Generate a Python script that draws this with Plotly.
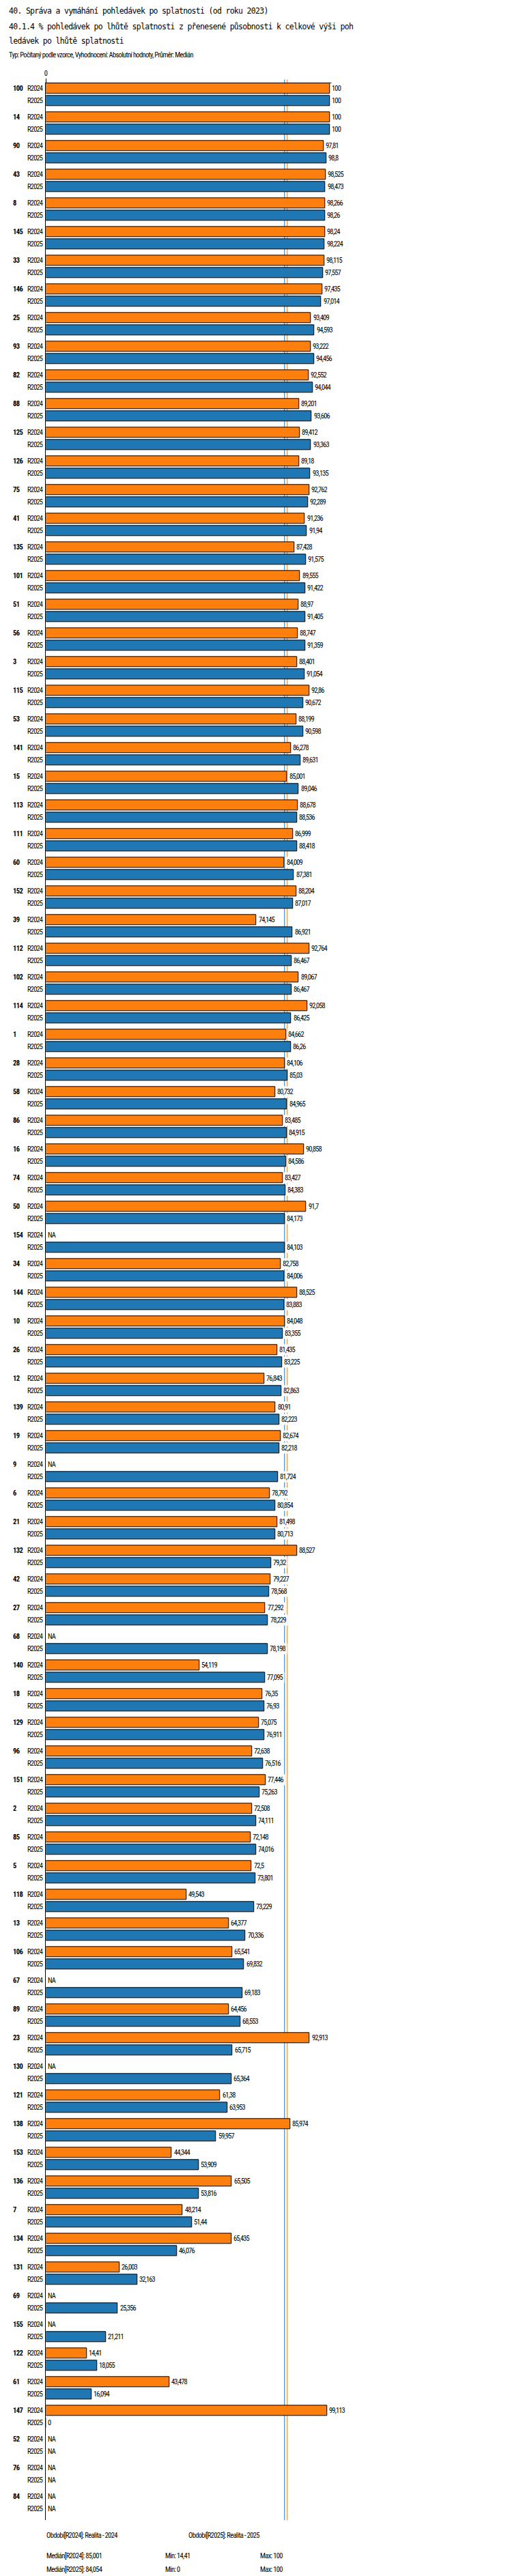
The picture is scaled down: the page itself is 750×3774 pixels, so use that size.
import plotly.graph_objects as go

W, H = 750, 3774

title_lines = [
    "40. Správa a vymáhání pohledávek po splatnosti (od roku 2023)",
    "40.1.4 % pohledávek po lhůtě splatnosti z přenesené působnosti k celkové výši poh",
    "ledávek po lhůtě splatnosti",
]
subtitle = "Typ: Počítaný podle vzorce, Vyhodnocení: Absolutní hodnoty, Průměr: Medián"

groups = [
    "100", "14", "90", "43", "8", "145", "33", "146", "25", "93", "82", "88",
    "125", "126", "75", "41", "135", "101", "51", "56", "3", "115", "53", "141",
    "15", "113", "111", "60", "152", "39", "112", "102", "114", "1", "28", "58",
    "86", "16", "74", "50", "154", "34", "144", "10", "26", "12", "139", "19",
    "9", "6", "21", "132", "42", "27", "68", "140", "18", "129", "96", "151",
    "2", "85", "5", "118", "13", "106", "67", "89", "23", "130", "121", "138",
    "153", "136", "7", "134", "131", "69", "155", "122", "61", "147", "52", "76",
    "84",
]
r2024 = [
    100, 100, 97.81, 98.525, 98.266, 98.24, 98.115, 97.435, 93.409, 93.222, 92.552, 89.201,
    89.412, 89.18, 92.762, 91.236, 87.428, 89.555, 88.97, 88.747, 88.401, 92.86, 88.199, 86.278,
    85.001, 88.678, 86.999, 84.009, 88.204, 74.145, 92.764, 89.067, 92.058, 84.662, 84.106, 80.732,
    83.485, 90.858, 83.427, 91.7, None, 82.758, 88.525, 84.048, 81.435, 76.843, 80.91, 82.674,
    None, 78.792, 81.498, 88.527, 79.227, 77.292, None, 54.119, 76.35, 75.075, 72.638, 77.446,
    72.508, 72.148, 72.5, 49.543, 64.377, 65.541, None, 64.456, 92.913, None, 61.38, 85.974,
    44.344, 65.505, 48.214, 65.435, 26.003, None, None, 14.41, 43.478, 99.113, None, None,
    None,
]
r2025 = [
    100, 100, 98.8, 98.473, 98.26, 98.224, 97.557, 97.014, 94.593, 94.456, 94.044, 93.606,
    93.363, 93.135, 92.289, 91.94, 91.575, 91.422, 91.405, 91.359, 91.054, 90.672, 90.598, 89.631,
    89.046, 88.536, 88.418, 87.381, 87.017, 86.921, 86.467, 86.467, 86.425, 86.26, 85.03, 84.965,
    84.915, 84.586, 84.383, 84.173, 84.103, 84.006, 83.883, 83.355, 83.225, 82.863, 82.223, 82.218,
    81.724, 80.854, 80.713, 79.32, 78.568, 78.229, 78.198, 77.095, 76.93, 76.911, 76.516, 75.263,
    74.111, 74.016, 73.801, 73.229, 70.336, 69.832, 69.183, 68.553, 65.715, 65.364, 63.953, 59.957,
    53.909, 53.816, 51.44, 46.076, 32.163, 25.356, 21.211, 18.055, 16.094, 0, None, None,
    None,
]
series_names = ["R2024", "R2025"]
series_colors = ["#ff7f0e", "#1f77b4"]
medians = [85.001, 84.054]
mins = [14.41, 0]
maxs = [100, 100]
period_labels = ["Období[R2024]: Realita - 2024", "Období[R2025]: Realita - 2025"]

MONO = "DejaVu Sans Mono"
NARROW = "Roboto Condensed, Liberation Sans Narrow, DejaVu Sans Condensed, DejaVu Sans Mono"
NSIZE = 10.5

# pixel layout
TOP = 114.3
GROUP = 42
SLOT = 18
BAR = 15
X0 = 56.5
PXU = 4.175
XMAX = 100.8
BOTTOM = TOP + GROUP * len(groups)


def py(px):
    return 1 - px / H


def fmt(v):
    if v is None:
        return "NA"
    return format(v, "g").replace(".", ",")


def sq(t, ls=-0.85):
    # squeeze text a bit, the original uses a very narrow font
    return f'<span style="letter-spacing:{ls}px">{t}</span>'


nfont = dict(family=NARROW, size=NSIZE, color="black")

pos24 = [TOP + GROUP * i + BAR / 2 for i in range(len(groups))]
pos25 = [p + SLOT for p in pos24]
positions = [pos24, pos25]
series = [r2024, r2025]

fig = go.Figure()
for name, vals, ys, col in zip(series_names, series, positions, series_colors):
    fig.add_trace(go.Bar(
        x=vals, y=ys, orientation="h", width=BAR - 0.5, name=name,
        marker=dict(color=col, line=dict(color="black", width=1)),
        showlegend=False,
    ))

annotations = []
for vals, ys in zip(series, positions):
    for v, y in zip(vals, ys):
        annotations.append(dict(
            x=v if v is not None else 0, y=y, xref="x", yref="y",
            text=sq(fmt(v)), showarrow=False, xanchor="left", yanchor="middle",
            xshift=1, bgcolor="white", borderpad=1, font=nfont,
        ))

for g, y in zip(groups, pos24):
    annotations.append(dict(
        x=6.5 / W, y=y, xref="paper", yref="y", text=sq(f"<b>{g}</b>", -0.5),
        showarrow=False, xanchor="left", yanchor="middle", font=nfont,
    ))

for i, line in enumerate(title_lines):
    annotations.append(dict(
        x=0, y=py([8, 30.7, 52.3][i]), xref="paper", yref="paper", text=sq(line, -0.7),
        showarrow=False, xanchor="left", yanchor="middle",
        font=dict(family=MONO, size=11.5, color="black"),
    ))
annotations.append(dict(
    x=0, y=py(73), xref="paper", yref="paper", text=sq(subtitle, -0.65),
    showarrow=False, xanchor="left", yanchor="middle", font=nfont,
))

foot = [
    (period_labels[0], 55.3, 3706), (period_labels[1], 264.3, 3706),
    (f"Medián[R2024]: {fmt(medians[0])}", 55.3, 3736),
    (f"Min: {fmt(mins[0])}", 229.7, 3736), (f"Max: {fmt(maxs[0])}", 369, 3736),
    (f"Medián[R2025]: {fmt(medians[1])}", 55.3, 3756),
    (f"Min: {fmt(mins[1])}", 229.7, 3756), (f"Max: {fmt(maxs[1])}", 369, 3756),
]
for txt, x, y in foot:
    annotations.append(dict(
        x=x / W, y=py(y), xref="paper", yref="paper", text=sq(txt, -0.65),
        showarrow=False, xanchor="left", yanchor="middle", font=nfont,
    ))

shapes = []
for m, col in zip(medians, series_colors):
    shapes.append(dict(
        type="line", xref="x", yref="paper", x0=m, x1=m,
        y0=py(BOTTOM), y1=py(108.5), layer="below",
        line=dict(color=col, width=1),
    ))

fig.update_layout(
    width=W, height=H, margin=dict(l=0, r=0, t=0, b=0),
    paper_bgcolor="white", plot_bgcolor="rgba(0,0,0,0)",
    separators=", ", bargap=0,
    xaxis=dict(
        domain=[X0 / W, (X0 + XMAX * PXU) / W], range=[0, XMAX], side="top",
        showline=True, linecolor="black", linewidth=1, showgrid=False, zeroline=False,
        ticks="outside", ticklen=6, tickcolor="black", tickwidth=1,
        tickvals=[0], ticktext=["0"], tickfont=nfont,
    ),
    yaxis=dict(
        domain=[py(BOTTOM), py(TOP)], range=[BOTTOM, TOP],
        showline=True, linecolor="black", linewidth=1, showgrid=False, zeroline=False,
        tickvals=pos24 + pos25,
        ticktext=[sq("R2024")] * len(pos24) + [sq("R2025")] * len(pos25),
        tickfont=nfont, ticks="", ticklabelstandoff=2,
    ),
    annotations=annotations, shapes=shapes,
)

fig.write_html("out.html")
